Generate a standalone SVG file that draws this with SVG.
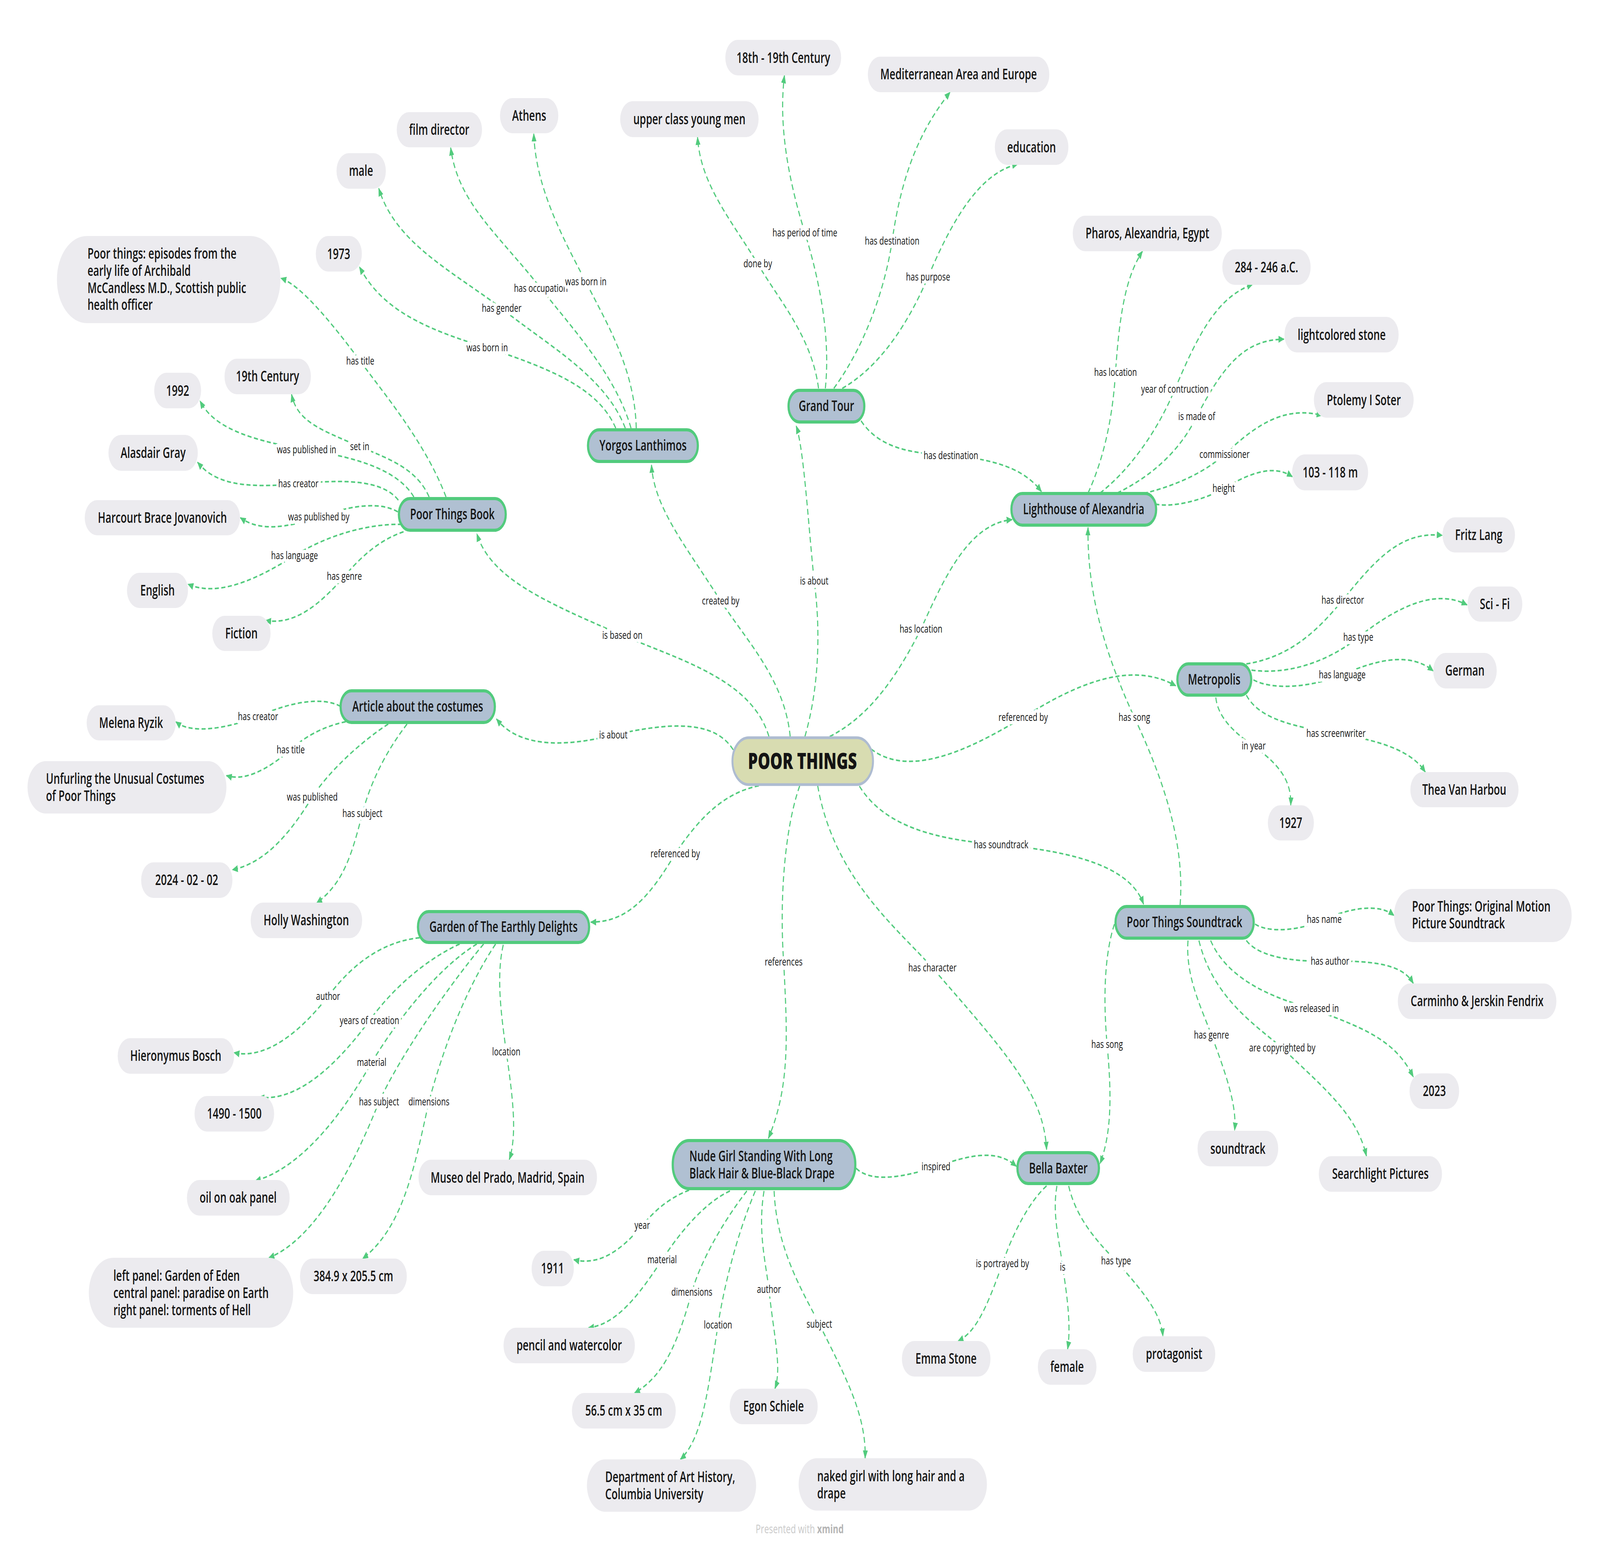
<svg xmlns="http://www.w3.org/2000/svg" width="5872" height="3972" viewBox="0 0 5872 3972" preserveAspectRatio="none">
<defs>
<style>
svg{width:100vw;height:100vh}
.bg{fill:#ffffff}
.leaf rect{fill:#ECEBEF}
.main rect{fill:#B0C0D2;stroke:#52CB7D;stroke-width:8}
.center rect{fill:#D8DCB1;stroke:#AEBCD1;stroke-width:7}
text{font-family:"Open Sans","Liberation Sans",sans-serif;fill:#141414}
.t{font-size:37px;font-weight:600;text-anchor:middle}
.tl{font-size:37px;font-weight:600}
.c{font-size:57px;font-weight:800;text-anchor:middle}
.edges path{fill:none;stroke:#52CB7D;stroke-width:4;stroke-dasharray:15 9;marker-end:url(#arr)}
.lbl{font-size:28px;font-weight:500;text-anchor:middle;stroke:#ffffff;stroke-width:18;stroke-linejoin:round;paint-order:stroke}
.wm{font-size:31px;font-weight:400;fill:#C9C9C9}
</style>
<marker id="arr" markerUnits="userSpaceOnUse" markerWidth="22" markerHeight="18" refX="20" refY="9" orient="auto">
<path d="M0,0 L22,9 L0,18 z" fill="#52CB7D"/>
</marker>
</defs>
<rect class="bg" x="0" y="0" width="5872" height="3972"/>

<g id="connectors" class="edges">
<path d="M2822,1885 C2760,1740 2500,1690 2284,1626 C2000,1540 1800,1480 1750,1366"/>
<path d="M2900,1885 C2880,1740 2740,1640 2645,1538 C2520,1400 2400,1300 2391,1190"/>
<path d="M2954,1885 C3010,1750 3010,1600 2988,1487 C2965,1330 2950,1150 2922,1090"/>
<path d="M3045,1885 C3200,1830 3300,1720 3380,1610 C3470,1470 3560,1340 3714,1330"/>
<path d="M2691,1919 C2620,1840 2450,1850 2251,1881 C2060,1915 1900,1910 1822,1840"/>
<path d="M3197,1917 C3350,2000 3600,1900 3755,1836 C3950,1750 4150,1690 4315,1755"/>
<path d="M3154,2012 C3250,2120 3450,2150 3674,2162 C3950,2180 4150,2220 4197,2314"/>
<path d="M3001,2011 C3060,2250 3300,2380 3422,2477 C3700,2700 3830,2800 3841,2942"/>
<path d="M2935,2011 C2880,2120 2860,2300 2876,2462 C2890,2650 2900,2780 2820,2913"/>
<path d="M2785,2011 C2650,2030 2560,2100 2478,2185 C2380,2300 2300,2360 2168,2360"/>
<path d="M1637,1272 C1560,1130 1400,1000 1322,924 C1200,810 1100,730 1031,712"/>
<path d="M1519,1272 C1450,1190 1250,1165 1125,1151 C900,1125 780,1090 734,1026"/>
<path d="M1575,1272 C1530,1200 1430,1175 1320,1143 C1180,1100 1090,1080 1070,1009"/>
<path d="M1462,1280 C1400,1225 1250,1228 1095,1238 C900,1250 790,1240 725,1183"/>
<path d="M1460,1310 C1400,1285 1300,1290 1170,1323 C1050,1352 950,1360 882,1325"/>
<path d="M1475,1342 C1350,1340 1200,1370 1081,1422 C950,1480 800,1530 690,1495"/>
<path d="M1481,1361 C1400,1380 1330,1420 1264,1475 C1170,1550 1080,1600 975,1588"/>
<path d="M2260,1096 C2200,1000 2050,950 1788,890 C1550,840 1400,790 1319,683"/>
<path d="M2295,1096 C2220,960 2000,880 1841,789 C1650,690 1450,620 1390,482"/>
<path d="M2316,1096 C2260,960 2100,840 1985,738 C1830,600 1680,520 1654,378"/>
<path d="M2335,1096 C2330,940 2220,820 2150,721 C2050,590 1965,470 1959,342"/>
<path d="M3004,994 C2980,860 2850,760 2781,675 C2680,560 2570,470 2560,351"/>
<path d="M3029,994 C3050,850 3000,700 2954,596 C2880,430 2860,300 2879,193"/>
<path d="M3060,994 C3180,880 3250,730 3274,617 C3310,440 3380,330 3487,236"/>
<path d="M3091,994 C3250,930 3350,800 3406,709 C3520,520 3620,440 3735,420"/>
<path d="M3160,1077 C3230,1150 3350,1160 3490,1166 C3650,1175 3760,1200 3822,1258"/>
<path d="M3993,1262 C4060,1160 4085,1050 4094,953 C4110,780 4140,700 4193,643"/>
<path d="M4037,1262 C4150,1200 4250,1100 4312,996 C4400,850 4470,760 4597,728"/>
<path d="M4100,1262 C4250,1210 4340,1140 4392,1066 C4500,920 4580,870 4712,868"/>
<path d="M4150,1270 C4300,1250 4420,1210 4494,1163 C4620,1080 4720,1040 4852,1063"/>
<path d="M4240,1290 C4300,1300 4420,1280 4491,1250 C4600,1205 4680,1190 4743,1220"/>
<path d="M4574,1699 C4750,1680 4850,1600 4928,1536 C5060,1420 5150,1360 5293,1370"/>
<path d="M4593,1715 C4750,1730 4900,1680 4985,1631 C5150,1540 5280,1510 5384,1548"/>
<path d="M4600,1740 C4680,1770 4830,1755 4926,1727 C5060,1685 5180,1670 5260,1717"/>
<path d="M4574,1779 C4620,1840 4750,1860 4903,1877 C5060,1895 5180,1920 5231,1976"/>
<path d="M4462,1785 C4470,1840 4540,1880 4601,1909 C4700,1960 4740,2000 4737,2061"/>
<path d="M4331,2316 C4350,2150 4260,1980 4163,1836 C4040,1650 3990,1500 3993,1350"/>
<path d="M4606,2365 C4660,2390 4780,2380 4860,2353 C4950,2325 5060,2310 5116,2343"/>
<path d="M4574,2407 C4620,2450 4750,2462 4881,2460 C5050,2458 5150,2470 5187,2517"/>
<path d="M4443,2407 C4500,2500 4650,2550 4813,2581 C5000,2630 5120,2660 5187,2756"/>
<path d="M4400,2407 C4450,2550 4600,2620 4706,2682 C4850,2780 4980,2850 5015,2959"/>
<path d="M4360,2407 C4350,2500 4410,2580 4446,2649 C4500,2750 4540,2830 4531,2893"/>
<path d="M4090,2365 C4050,2450 4050,2570 4063,2673 C4080,2800 4080,2900 4037,2978"/>
<path d="M3142,2990 C3200,3030 3330,3010 3435,2986 C3560,2955 3660,2940 3730,2985"/>
<path d="M2529,3046 C2440,3070 2390,3110 2357,3136 C2280,3200 2200,3240 2106,3224"/>
<path d="M2679,3048 C2580,3080 2490,3160 2430,3224 C2340,3320 2260,3390 2160,3398"/>
<path d="M2741,3048 C2650,3130 2570,3230 2539,3307 C2490,3430 2440,3520 2329,3565"/>
<path d="M2772,3048 C2710,3150 2660,3280 2635,3391 C2600,3550 2580,3680 2497,3735"/>
<path d="M2804,3048 C2780,3150 2810,3230 2822,3300 C2840,3420 2870,3500 2844,3554"/>
<path d="M2841,3048 C2850,3200 2950,3310 3007,3389 C3100,3520 3180,3620 3175,3732"/>
<path d="M3841,3035 C3770,3080 3710,3170 3679,3234 C3620,3350 3580,3410 3516,3432"/>
<path d="M3879,3035 C3860,3110 3890,3180 3900,3243 C3920,3330 3930,3400 3918,3453"/>
<path d="M3922,3035 C3950,3120 4030,3180 4096,3227 C4200,3310 4260,3360 4268,3420"/>
<path d="M1250,1808 C1180,1780 1050,1800 947,1834 C830,1865 700,1880 645,1847"/>
<path d="M1269,1847 C1180,1860 1110,1890 1067,1919 C980,1970 900,2000 831,1985"/>
<path d="M1425,1853 C1320,1900 1200,1980 1146,2040 C1050,2150 960,2210 853,2226"/>
<path d="M1494,1853 C1420,1920 1360,2000 1330,2082 C1290,2190 1260,2260 1162,2311"/>
<path d="M1540,2400 C1400,2410 1290,2470 1204,2550 C1080,2660 960,2710 859,2694"/>
<path d="M1687,2416 C1550,2460 1430,2540 1356,2612 C1220,2740 1080,2820 950,2808"/>
<path d="M1750,2416 C1600,2480 1450,2620 1364,2719 C1250,2860 1100,2990 937,3022"/>
<path d="M1775,2416 C1650,2520 1470,2700 1391,2820 C1300,2980 1160,3170 987,3219"/>
<path d="M1819,2416 C1700,2540 1620,2700 1574,2820 C1520,2990 1480,3140 1331,3221"/>
<path d="M1847,2418 C1820,2500 1840,2600 1858,2692 C1880,2800 1900,2900 1869,2968"/>

<g id="edge-labels">
<text class="lbl" x="2284" y="1635">is based on</text>
<text class="lbl" x="2645" y="1547">created by</text>
<text class="lbl" x="2988" y="1496">is about</text>
<text class="lbl" x="3380" y="1619">has location</text>
<text class="lbl" x="2251" y="1890">is about</text>
<text class="lbl" x="3755" y="1845">referenced by</text>
<text class="lbl" x="3674" y="2171">has soundtrack</text>
<text class="lbl" x="3422" y="2486">has character</text>
<text class="lbl" x="2876" y="2471">references</text>
<text class="lbl" x="2478" y="2194">referenced by</text>
<text class="lbl" x="1322" y="933">has title</text>
<text class="lbl" x="1125" y="1160">was published in</text>
<text class="lbl" x="1320" y="1152">set in</text>
<text class="lbl" x="1095" y="1247">has creator</text>
<text class="lbl" x="1170" y="1332">was published by</text>
<text class="lbl" x="1081" y="1431">has language</text>
<text class="lbl" x="1264" y="1484">has genre</text>
<text class="lbl" x="1788" y="899">was born in</text>
<text class="lbl" x="1841" y="798">has gender</text>
<text class="lbl" x="1985" y="747">has occupation</text>
<text class="lbl" x="2150" y="730">was born in</text>
<text class="lbl" x="2781" y="684">done by</text>
<text class="lbl" x="2954" y="605">has period of time</text>
<text class="lbl" x="3274" y="626">has destination</text>
<text class="lbl" x="3406" y="718">has purpose</text>
<text class="lbl" x="3490" y="1175">has destination</text>
<text class="lbl" x="4094" y="962">has location</text>
<text class="lbl" x="4312" y="1005">year of contruction</text>
<text class="lbl" x="4392" y="1075">is made of</text>
<text class="lbl" x="4494" y="1172">commissioner</text>
<text class="lbl" x="4491" y="1259">height</text>
<text class="lbl" x="4928" y="1545">has director</text>
<text class="lbl" x="4985" y="1640">has type</text>
<text class="lbl" x="4926" y="1736">has language</text>
<text class="lbl" x="4903" y="1886">has screenwriter</text>
<text class="lbl" x="4601" y="1918">in year</text>
<text class="lbl" x="4163" y="1845">has song</text>
<text class="lbl" x="4860" y="2362">has name</text>
<text class="lbl" x="4881" y="2469">has author</text>
<text class="lbl" x="4813" y="2590">was released in</text>
<text class="lbl" x="4706" y="2691">are copyrighted by</text>
<text class="lbl" x="4446" y="2658">has genre</text>
<text class="lbl" x="4063" y="2682">has song</text>
<text class="lbl" x="3435" y="2995">inspired</text>
<text class="lbl" x="2357" y="3145">year</text>
<text class="lbl" x="2430" y="3233">material</text>
<text class="lbl" x="2539" y="3316">dimensions</text>
<text class="lbl" x="2635" y="3400">location</text>
<text class="lbl" x="2822" y="3309">author</text>
<text class="lbl" x="3007" y="3398">subject</text>
<text class="lbl" x="3679" y="3243">is portrayed by</text>
<text class="lbl" x="3900" y="3252">is</text>
<text class="lbl" x="4096" y="3236">has type</text>
<text class="lbl" x="947" y="1843">has creator</text>
<text class="lbl" x="1067" y="1928">has title</text>
<text class="lbl" x="1146" y="2049">was published</text>
<text class="lbl" x="1330" y="2091">has subject</text>
<text class="lbl" x="1204" y="2559">author</text>
<text class="lbl" x="1356" y="2621">years of creation</text>
<text class="lbl" x="1364" y="2728">material</text>
<text class="lbl" x="1391" y="2829">has subject</text>
<text class="lbl" x="1574" y="2829">dimensions</text>
<text class="lbl" x="1858" y="2701">location</text>
</g>
</g>

<g id="poor-things" class="center"><rect x="2688" y="1888" width="516" height="120" rx="60"/><text class="c" x="2945" y="1968">POOR THINGS</text></g>

<g id="poor-things-book" class="main"><rect x="1464" y="1276" width="392" height="81" rx="40"/><text class="t" x="1660" y="1329">Poor Things Book</text></g>
<g id="yorgos-lanthimos" class="main"><rect x="2158" y="1100" width="403" height="81" rx="40"/><text class="t" x="2360" y="1153">Yorgos Lanthimos</text></g>
<g id="grand-tour" class="main"><rect x="2894" y="999" width="278" height="81" rx="40"/><text class="t" x="3033" y="1052">Grand Tour</text></g>
<g id="lighthouse" class="main"><rect x="3712" y="1263" width="531" height="81" rx="40"/><text class="t" x="3977" y="1316">Lighthouse of Alexandria</text></g>
<g id="metropolis" class="main"><rect x="4321" y="1699" width="271" height="80" rx="40"/><text class="t" x="4456" y="1752">Metropolis</text></g>
<g id="soundtrack-main" class="main"><rect x="4094" y="2320" width="507" height="81" rx="40"/><text class="t" x="4347" y="2373">Poor Things Soundtrack</text></g>
<g id="article" class="main"><rect x="1250" y="1768" width="566" height="81" rx="40"/><text class="t" x="1533" y="1821">Article about the costumes</text></g>
<g id="garden" class="main"><rect x="1534" y="2333" width="628" height="79" rx="39"/><text class="t" x="1848" y="2385">Garden of The Earthly Delights</text></g>
<g id="nude-girl" class="main"><rect x="2469" y="2919" width="670" height="123" rx="60"/><text class="tl" x="2530" y="2972">Nude Girl Standing With Long</text><text class="tl" x="2530" y="3016">Black Hair &amp; Blue-Black Drape</text></g>
<g id="bella-baxter" class="main"><rect x="3734" y="2950" width="299" height="79" rx="39"/><text class="t" x="3884" y="3003">Bella Baxter</text></g>

<g id="athens" class="leaf"><rect x="1835" y="251" width="214" height="90" rx="45"/><text class="t" x="1942" y="309">Athens</text></g>
<g id="film-director" class="leaf"><rect x="1456" y="287" width="313" height="90" rx="45"/><text class="t" x="1612" y="345">film director</text></g>
<g id="male" class="leaf"><rect x="1235" y="392" width="181" height="91" rx="45"/><text class="t" x="1325" y="450">male</text></g>
<g id="book-title" class="leaf"><rect x="209" y="604" width="820" height="223" rx="110"/><text class="tl" x="321" y="662">Poor things: episodes from the</text><text class="tl" x="321" y="706">early life of Archibald</text><text class="tl" x="321" y="750">McCandless M.D., Scottish public</text><text class="tl" x="321" y="793">health officer</text></g>
<g id="y1973" class="leaf"><rect x="1159" y="604" width="169" height="91" rx="45"/><text class="t" x="1243" y="663">1973</text></g>
<g id="c19th" class="leaf"><rect x="824" y="918" width="317" height="91" rx="45"/><text class="t" x="982" y="976">19th Century</text></g>
<g id="y1992" class="leaf"><rect x="566" y="954" width="172" height="91" rx="45"/><text class="t" x="652" y="1013">1992</text></g>
<g id="alasdair" class="leaf"><rect x="398" y="1113" width="328" height="92" rx="46"/><text class="t" x="562" y="1172">Alasdair Gray</text></g>
<g id="harcourt" class="leaf"><rect x="311" y="1280" width="570" height="90" rx="45"/><text class="t" x="596" y="1338">Harcourt Brace Jovanovich</text></g>
<g id="english" class="leaf"><rect x="466" y="1466" width="224" height="90" rx="45"/><text class="t" x="578" y="1524">English</text></g>
<g id="fiction" class="leaf"><rect x="779" y="1576" width="214" height="90" rx="45"/><text class="t" x="886" y="1634">Fiction</text></g>
<g id="melena" class="leaf"><rect x="318" y="1805" width="327" height="90" rx="45"/><text class="t" x="481" y="1863">Melena Ryzik</text></g>
<g id="unfurling" class="leaf"><rect x="101" y="1948" width="730" height="134" rx="67"/><text class="tl" x="169" y="2006">Unfurling the Unusual Costumes</text><text class="tl" x="169" y="2050">of Poor Things</text></g>
<g id="d2024" class="leaf"><rect x="518" y="2207" width="335" height="91" rx="45"/><text class="t" x="685" y="2265">2024 - 02 - 02</text></g>
<g id="holly" class="leaf"><rect x="920" y="2310" width="409" height="91" rx="45"/><text class="t" x="1124" y="2368">Holly Washington</text></g>
<g id="hieronymus" class="leaf"><rect x="432" y="2657" width="427" height="91" rx="45"/><text class="t" x="645" y="2715">Hieronymus Bosch</text></g>
<g id="y1490" class="leaf"><rect x="714" y="2805" width="292" height="91" rx="45"/><text class="t" x="860" y="2863">1490 - 1500</text></g>
<g id="oil" class="leaf"><rect x="686" y="3020" width="377" height="91" rx="45"/><text class="t" x="874" y="3078">oil on oak panel</text></g>
<g id="panels" class="leaf"><rect x="326" y="3219" width="750" height="179" rx="89"/><text class="tl" x="416" y="3278">left panel: Garden of Eden</text><text class="tl" x="416" y="3322">central panel: paradise on Earth</text><text class="tl" x="416" y="3366">right panel: torments of Hell</text></g>
<g id="dim384" class="leaf"><rect x="1101" y="3221" width="392" height="91" rx="45"/><text class="t" x="1297" y="3279">384.9 x 205.5 cm</text></g>
<g id="museo" class="leaf"><rect x="1536" y="2968" width="655" height="91" rx="45"/><text class="t" x="1863" y="3027">Museo del Prado, Madrid, Spain</text></g>
<g id="pencil" class="leaf"><rect x="1848" y="3398" width="482" height="91" rx="45"/><text class="t" x="2089" y="3456">pencil and watercolor</text></g>
<g id="y1911" class="leaf"><rect x="1951" y="3201" width="155" height="91" rx="45"/><text class="t" x="2028" y="3259">1911</text></g>
<g id="dim56" class="leaf"><rect x="2099" y="3565" width="381" height="91" rx="45"/><text class="t" x="2289" y="3623">56.5 cm x 35 cm</text></g>
<g id="egon" class="leaf"><rect x="2678" y="3554" width="323" height="91" rx="45"/><text class="t" x="2839" y="3612">Egon Schiele</text></g>
<g id="dept" class="leaf"><rect x="2154" y="3735" width="621" height="134" rx="67"/><text class="tl" x="2221" y="3793">Department of Art History,</text><text class="tl" x="2221" y="3837">Columbia University</text></g>
<g id="naked" class="leaf"><rect x="2931" y="3732" width="691" height="134" rx="67"/><text class="tl" x="2999" y="3791">naked girl with long hair and a</text><text class="tl" x="2999" y="3835">drape</text></g>
<g id="emma" class="leaf"><rect x="3310" y="3432" width="325" height="91" rx="45"/><text class="t" x="3472" y="3490">Emma Stone</text></g>
<g id="female" class="leaf"><rect x="3809" y="3453" width="215" height="91" rx="45"/><text class="t" x="3916" y="3511">female</text></g>
<g id="protagonist" class="leaf"><rect x="4157" y="3420" width="303" height="91" rx="45"/><text class="t" x="4309" y="3478">protagonist</text></g>
<g id="soundtrack-genre" class="leaf"><rect x="4395" y="2894" width="296" height="91" rx="45"/><text class="t" x="4543" y="2953">soundtrack</text></g>
<g id="searchlight" class="leaf"><rect x="4840" y="2959" width="452" height="91" rx="45"/><text class="t" x="5066" y="3017">Searchlight Pictures</text></g>
<g id="y2023" class="leaf"><rect x="5173" y="2747" width="182" height="91" rx="45"/><text class="t" x="5264" y="2805">2023</text></g>
<g id="carminho" class="leaf"><rect x="5130" y="2517" width="582" height="91" rx="45"/><text class="t" x="5421" y="2575">Carminho &amp; Jerskin Fendrix</text></g>
<g id="ost-name" class="leaf"><rect x="5116" y="2275" width="652" height="136" rx="68"/><text class="tl" x="5182" y="2333">Poor Things: Original Motion</text><text class="tl" x="5182" y="2376">Picture Soundtrack</text></g>
<g id="thea" class="leaf"><rect x="5176" y="1976" width="397" height="90" rx="45"/><text class="t" x="5374" y="2034">Thea Van Harbou</text></g>
<g id="y1927" class="leaf"><rect x="4653" y="2061" width="169" height="90" rx="45"/><text class="t" x="4737" y="2119">1927</text></g>
<g id="german" class="leaf"><rect x="5260" y="1671" width="233" height="91" rx="45"/><text class="t" x="5376" y="1729">German</text></g>
<g id="scifi" class="leaf"><rect x="5386" y="1501" width="201" height="90" rx="45"/><text class="t" x="5486" y="1559">Sci - Fi</text></g>
<g id="fritz" class="leaf"><rect x="5294" y="1324" width="266" height="90" rx="45"/><text class="t" x="5427" y="1382">Fritz Lang</text></g>
<g id="height103" class="leaf"><rect x="4742" y="1163" width="279" height="92" rx="46"/><text class="t" x="4882" y="1222">103 - 118 m</text></g>
<g id="ptolemy" class="leaf"><rect x="4822" y="978" width="366" height="91" rx="45"/><text class="t" x="5005" y="1037">Ptolemy I Soter</text></g>
<g id="stone" class="leaf"><rect x="4714" y="811" width="419" height="91" rx="45"/><text class="t" x="4924" y="870">lightcolored stone</text></g>
<g id="y284" class="leaf"><rect x="4486" y="638" width="324" height="91" rx="45"/><text class="t" x="4648" y="697">284 - 246 a.C.</text></g>
<g id="pharos" class="leaf"><rect x="3937" y="552" width="547" height="91" rx="45"/><text class="t" x="4211" y="610">Pharos, Alexandria, Egypt</text></g>
<g id="education" class="leaf"><rect x="3651" y="331" width="270" height="91" rx="45"/><text class="t" x="3786" y="390">education</text></g>
<g id="mediterranean" class="leaf"><rect x="3185" y="145" width="666" height="91" rx="45"/><text class="t" x="3518" y="203">Mediterranean Area and Europe</text></g>
<g id="c18th" class="leaf"><rect x="2662" y="102" width="425" height="91" rx="45"/><text class="t" x="2875" y="161">18th - 19th Century</text></g>
<g id="upper-class" class="leaf"><rect x="2276" y="259" width="508" height="92" rx="46"/><text class="t" x="2530" y="318">upper class young men</text></g>

<text class="wm" x="2935" y="3924" text-anchor="middle">Presented with <tspan font-weight="700" fill="#B5B5B5">xmind</tspan></text>
</svg>
